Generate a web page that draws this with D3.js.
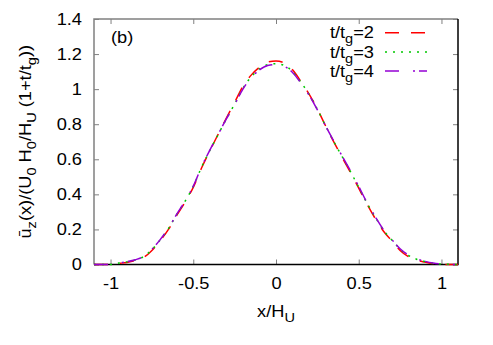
<!DOCTYPE html>
<html>
<head>
<meta charset="utf-8">
<script src="https://cdn.jsdelivr.net/npm/d3@7"></script>
<style>
  body { margin: 0; background: #fff; }
  svg text { font-family: "Liberation Sans", Arial, sans-serif; fill: #000; }
</style>
</head>
<body>
<div id="chart"></div>
<script>
// profile positions x/H_U
var xs = [-1.1, -1.0, -0.95, -0.9, -0.85, -0.8, -0.75, -0.7, -0.65, -0.6,
          -0.55, -0.5, -0.45, -0.4, -0.35, -0.3, -0.25, -0.2, -0.15, -0.1,
          -0.05, 0, 0.05, 0.1, 0.15, 0.2, 0.25, 0.3, 0.35, 0.4,
          0.45, 0.5, 0.55, 0.6, 0.65, 0.7, 0.75, 0.8, 0.85, 0.9,
          0.95, 1.0, 1.1];

// normalised velocity, one array per time ratio
var uT2 = [0, 0, 0.006, 0.012, 0.022, 0.04, 0.08, 0.135, 0.2, 0.28,
           0.355, 0.44, 0.55, 0.648, 0.742, 0.835, 0.925, 1.015, 1.08, 1.125,
           1.155, 1.16, 1.15, 1.11, 1.045, 0.972, 0.887, 0.79, 0.698, 0.61,
           0.525, 0.435, 0.345, 0.262, 0.19, 0.135, 0.08, 0.045, 0.025, 0.014,
           0.005, 0.001, 0];
var uT3 = [0, 0, 0.008, 0.015, 0.026, 0.045, 0.085, 0.14, 0.205, 0.285,
           0.36, 0.445, 0.555, 0.65, 0.74, 0.83, 0.915, 1.005, 1.07, 1.115,
           1.14, 1.145, 1.135, 1.1, 1.04, 0.97, 0.885, 0.79, 0.70, 0.615,
           0.53, 0.44, 0.35, 0.27, 0.195, 0.14, 0.088, 0.052, 0.03, 0.017,
           0.007, 0.002, 0];
var uT4 = [0, 0, 0.009, 0.016, 0.027, 0.046, 0.087, 0.142, 0.207, 0.287,
           0.362, 0.447, 0.557, 0.652, 0.742, 0.83, 0.912, 1.0, 1.065, 1.11,
           1.135, 1.14, 1.13, 1.095, 1.035, 0.966, 0.882, 0.79, 0.702, 0.618,
           0.535, 0.445, 0.353, 0.272, 0.198, 0.142, 0.09, 0.054, 0.032, 0.018,
           0.008, 0.003, 0];

var seriesLabels = ["2", "3", "4"];
var xTicks = [-1, -0.5, 0, 0.5, 1];
var yTicks = [0, 0.2, 0.4, 0.6, 0.8, 1, 1.2, 1.4];

var W = 493, H = 345;
var margin = {top: 19, right: 35, bottom: 80.5, left: 94},
    width = W - margin.left - margin.right,
    height = H - margin.top - margin.bottom;
var sx = 1.14;   // the original font renders a bit wider than Liberation Sans

var svg = d3.select("#chart").append("svg")
    .attr("width", W)
    .attr("height", H);

var g = svg.append("g")
    .attr("transform", "translate(" + margin.left + "," + margin.top + ")");

var x = d3.scaleLinear().domain([-1.1, 1.1]).range([0, width]);
var y = d3.scaleLinear().domain([0, 1.4]).range([height, 0]);

var fmt = function(d) { return String(d); };
var grey = "#808080";

// axes with inward ticks
var xAxis = g.append("g")
    .attr("transform", "translate(0," + height + ")")
    .call(d3.axisBottom(x).tickValues(xTicks).tickFormat(fmt).tickSizeInner(-5).tickSizeOuter(0).tickPadding(13));
var yAxis = g.append("g")
    .call(d3.axisLeft(y).tickValues(yTicks).tickFormat(d3.format("~g")).tickSizeInner(-5).tickSizeOuter(0).tickPadding(12 / sx));
var xTop = g.append("g")
    .call(d3.axisTop(x).tickValues(xTicks).tickFormat("").tickSizeInner(-5).tickSizeOuter(0));
var yRight = g.append("g")
    .attr("transform", "translate(" + width + ",0)")
    .call(d3.axisRight(y).tickValues(yTicks).tickFormat("").tickSizeInner(-5).tickSizeOuter(0));

[xAxis, yAxis, xTop, yRight].forEach(function(a) {
    a.select(".domain").remove();
    a.selectAll(".tick line").attr("stroke", grey);
    a.selectAll("text")
        .attr("font-size", 16)
        .attr("font-family", "Liberation Sans, Arial, sans-serif")
        .attr("fill", "#000")
        .attr("transform", "scale(" + sx + ",1)");
});

// frame: left/top grey, bottom/right black
g.append("path").attr("d", "M0," + height + "V0H" + width)
    .attr("fill", "none").attr("stroke", grey).attr("stroke-width", 1.5);
g.append("path").attr("d", "M0," + height + "H" + width + "V0")
    .attr("fill", "none").attr("stroke", "#000").attr("stroke-width", 1.5);

// curves
var styles = [
    {data: uT2, color: "#ff0000", dash: "14,12"},
    {data: uT3, color: "#00c800", dash: "2,6"},
    {data: uT4, color: "#9400d3", dash: "14,14,2,4"}
];

var line = d3.line()
    .x(function(d) { return x(d[0]); })
    .y(function(d) { return y(d[1]); })
    .curve(d3.curveMonotoneX);

styles.forEach(function(s) {
    g.append("path")
        .datum(xs.map(function(v, i) { return [v, s.data[i]]; }))
        .attr("fill", "none")
        .attr("stroke", s.color)
        .attr("stroke-width", 1.5)
        .attr("stroke-dasharray", s.dash)
        .attr("d", line);
});

// text helper: positioned, widened, with optional subscripts
function label(tx, ty, rot, anchor, parts) {
    var t = svg.append("text")
        .attr("transform", "translate(" + tx + "," + ty + ")" + (rot ? " rotate(" + rot + ")" : "") + " scale(" + sx + ",1)")
        .attr("text-anchor", anchor)
        .attr("font-size", 16);
    var down = false;
    parts.forEach(function(p) {
        var sub = p[0] === "_";
        var s = t.append("tspan").text(sub ? p.slice(1) : p);
        if (sub) {
            s.attr("font-size", 12.8).attr("dy", down ? 0 : 5);
            down = true;
        } else {
            s.attr("dy", down ? -5 : 0);
            down = false;
        }
    });
    return t;
}

// legend
styles.forEach(function(s, i) {
    var ly = 32.7 + i * 19.2;
    label(374, ly + 5.6, 0, "end", ["t/t", "_g", "=" + seriesLabels[i]]);
    svg.append("line")
        .attr("x1", 385).attr("x2", 427)
        .attr("y1", ly).attr("y2", ly)
        .attr("stroke", s.color)
        .attr("stroke-width", 1.5)
        .attr("stroke-dasharray", s.dash);
});

// panel tag
label(111, 43, 0, "start", ["(b)"]);

// axis titles
label(margin.left + width / 2, 317, 0, "middle", ["x/H", "_U"]);
label(31, margin.top + height / 2, -90, "middle",
      ["\u016b", "_z", "(x)/(U", "_0", " H", "_0", "/H", "_U", " (1+t/t", "_g", "))"]);
</script>
</body>
</html>
